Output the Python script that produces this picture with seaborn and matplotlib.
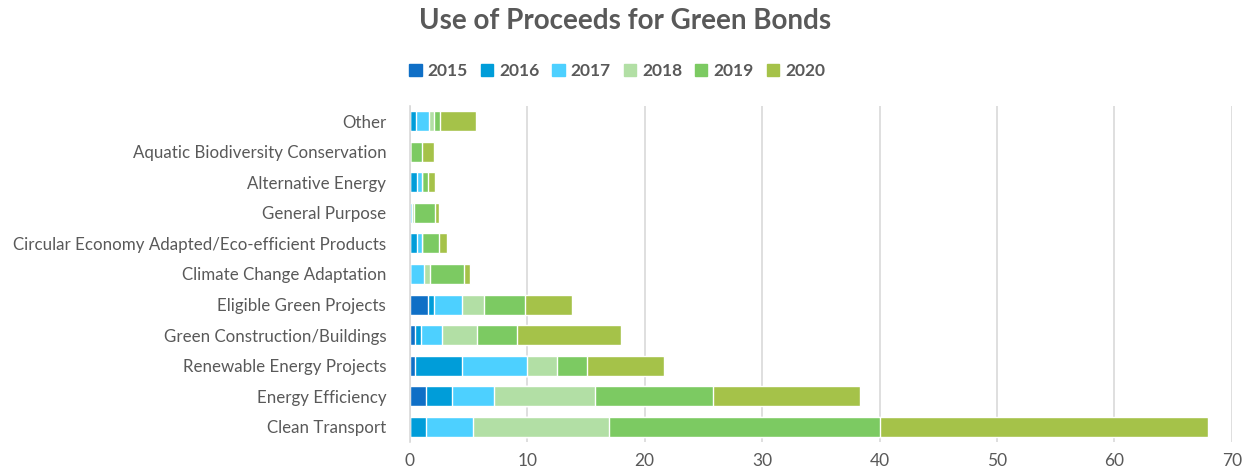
import pandas as pd
import matplotlib.pyplot as plt
import matplotlib.patches as mpatches
import seaborn as sns

# Datos (miles de millones aprox.)
categories = [
    "Other",
    "Aquatic Biodiversity Conservation",
    "Alternative Energy",
    "General Purpose",
    "Circular Economy Adapted/Eco-efficient Products",
    "Climate Change Adaptation",
    "Eligible Green Projects",
    "Green Construction/Buildings",
    "Renewable Energy Projects",
    "Energy Efficiency",
    "Clean Transport",
]
years = ["2015", "2016", "2017", "2018", "2019", "2020"]
v2015 = [0.0, 0.0, 0.0, 0.0, 0.0, 0.0, 1.55, 0.42, 0.42, 1.35, 0.0]
v2016 = [0.5, 0.0, 0.6, 0.0, 0.6, 0.0, 0.55, 0.5, 4.0, 2.25, 1.4]
v2017 = [1.1, 0.0, 0.45, 0.17, 0.45, 1.2, 2.35, 1.8, 5.6, 3.6, 4.0]
v2018 = [0.43, 0.0, 0.0, 0.17, 0.0, 0.55, 1.87, 3.0, 2.5, 8.6, 11.6]
v2019 = [0.57, 1.05, 0.5, 1.8, 1.4, 2.9, 3.5, 3.4, 2.6, 10.0, 23.0]
v2020 = [3.0, 1.02, 0.6, 0.37, 0.75, 0.5, 4.0, 8.9, 6.5, 12.5, 28.0]
colors = ["#0F6FC6", "#009DD9", "#4DD0FF", "#B2DFA5", "#7CCA62", "#A5C249"]

df = pd.DataFrame({"category": categories, "2015": v2015, "2016": v2016,
                   "2017": v2017, "2018": v2018, "2019": v2019, "2020": v2020})
cum = df[years].cumsum(axis=1)
cum["category"] = df["category"]

sns.set_style("white")
plt.rcParams["font.family"] = ["Lato", "DejaVu Sans"]
gray = "#595959"

fig = plt.figure(figsize=(12.57, 4.72), dpi=100)
ax = fig.add_axes([0.326, 0.063, 0.654, 0.713])

# barras apiladas: se dibuja el acumulado de mayor a menor
for year, color in reversed(list(zip(years, colors))):
    sns.barplot(data=cum, x=year, y="category", order=categories, color=color,
                width=0.65, saturation=1, ax=ax, orient="h")

ax.set_xlim(0, 70)
ax.set_xticks(range(0, 71, 10))
ax.xaxis.grid(True, color="#D9D9D9", linewidth=1.2)
ax.set_axisbelow(True)
ax.set_xlabel("")
ax.set_ylabel("")
for side in ["top", "right", "bottom"]:
    ax.spines[side].set_visible(False)
ax.spines["left"].set_color("#D9D9D9")
ax.spines["left"].set_linewidth(1.2)
ax.tick_params(axis="both", length=0, colors=gray, labelsize=12.5)
ax.tick_params(axis="y", pad=17, labelsize=12.2)
ax.tick_params(axis="x", pad=8)

fig.text(0.497, 0.955, "Use of Proceeds for Green Bonds", ha="center", va="center",
         fontsize=20, fontweight="bold", color=gray)

handles = [mpatches.Patch(color=c, label=y) for y, c in zip(years, colors)]
leg = fig.legend(handles=handles, loc="center", bbox_to_anchor=(0.491, 0.85), ncol=6,
                 frameon=False, handlelength=0.7, handleheight=0.7, handletextpad=0.35,
                 columnspacing=0.75, prop={"weight": "bold", "size": 12.5})
for t in leg.get_texts():
    t.set_color(gray)

plt.savefig("out.png", dpi=100)
plt.close()
